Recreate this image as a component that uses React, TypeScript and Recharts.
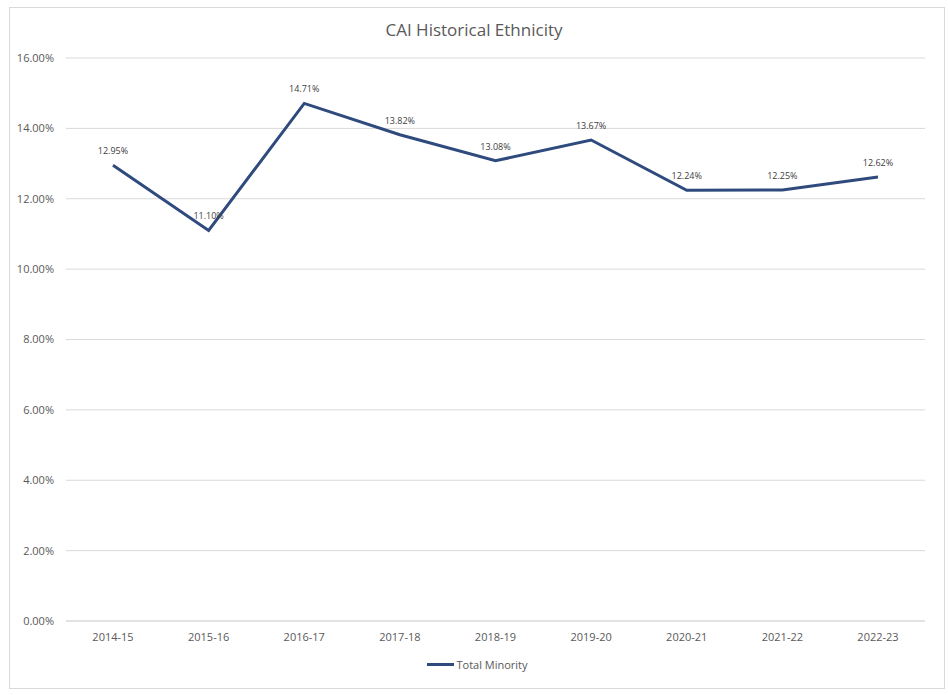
import { LineChart, Line, XAxis, YAxis, CartesianGrid, Legend, LabelList } from 'recharts';

const years = ['2014-15', '2015-16', '2016-17', '2017-18', '2018-19', '2019-20', '2020-21', '2021-22', '2022-23'];
const totalMinority = [12.95, 11.1, 14.71, 13.82, 13.08, 13.67, 12.24, 12.25, 12.62];
const yTicks = [0, 2, 4, 6, 8, 10, 12, 14, 16];

const data = years.map((year, i) => ({ year, value: totalMinority[i] }));

const font = '"Open Sans", "Noto Sans", sans-serif';
const lineColor = '#2f4a7c';

const LegendBox = () => (
  <div style={{ height: 30, paddingLeft: 30, display: 'flex', justifyContent: 'center', alignItems: 'center', fontFamily: font, fontSize: 11, color: '#595959' }}>
    <span style={{ display: 'inline-block', width: 27, height: 3, background: lineColor, marginRight: 2 }} />
    <span>Total Minority</span>
  </div>
);

export default function App() {
  return (
    <div style={{ position: 'absolute', left: 0, top: 0, width: 948, height: 695, background: '#fff' }}>
      <div style={{ position: 'absolute', left: 9, top: 7, width: 934, height: 680, border: '1px solid #d9d9d9' }} />
      <div style={{ position: 'absolute', left: 0, top: 18, width: 948, textAlign: 'center', fontFamily: font, fontSize: 17, color: '#595959' }}>
        CAI Historical Ethnicity
      </div>
      <div style={{ position: 'absolute', left: 0, top: 0 }}>
        <LineChart width={948} height={695} data={data} margin={{ top: 58, right: 23, left: 0, bottom: 16 }}>
          <CartesianGrid vertical={false} stroke="#d9d9d9" />
          <XAxis
            dataKey="year"
            axisLine={{ stroke: '#d9d9d9' }}
            tickLine={false}
            tickMargin={6}
            height={28}
            padding={{ left: 47, right: 47 }}
            tick={{ fontFamily: font, fontSize: 11, fill: '#595959' }}
          />
          <YAxis
            domain={[0, 16]}
            ticks={yTicks}
            width={66}
            axisLine={false}
            tickLine={false}
            tickMargin={6}
            tickFormatter={(v: number) => `${v.toFixed(2)}%`}
            tick={{ fontFamily: font, fontSize: 11, fill: '#595959' }}
          />
          <Legend verticalAlign="bottom" height={30} content={() => <LegendBox />} />
          <Line
            type="linear"
            dataKey="value"
            stroke={lineColor}
            strokeWidth={3}
            dot={false}
            isAnimationActive={false}
          >
            <LabelList
              dataKey="value"
              position="top"
              offset={11}
              formatter={(v: number) => `${v.toFixed(2)}%`}
              style={{ fontFamily: font, fontSize: 9, fill: '#404040' }}
            />
          </Line>
        </LineChart>
      </div>
    </div>
  );
}
